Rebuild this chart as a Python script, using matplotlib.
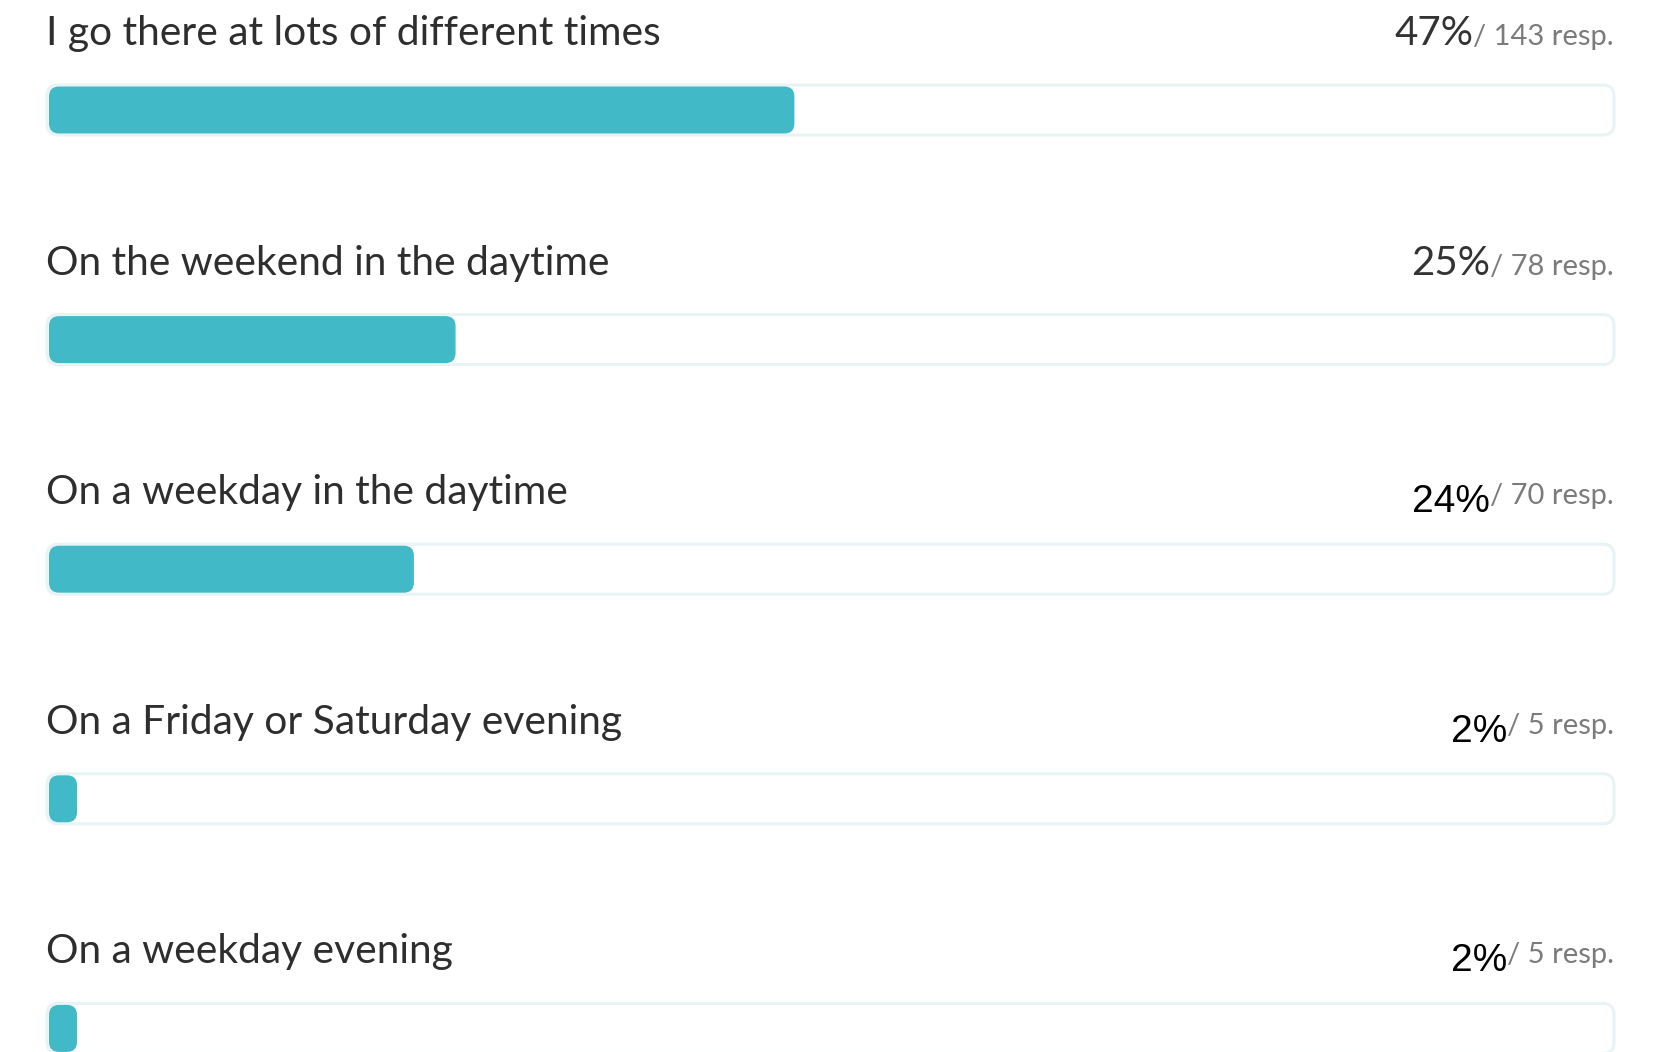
import matplotlib
matplotlib.use("Agg")
import matplotlib.pyplot as plt
from matplotlib.patches import FancyBboxPatch

labels = ["I go there at lots of different times",
          "On the weekend in the daytime",
          "On a weekday in the daytime",
          "On a Friday or Saturday evening",
          "On a weekday evening"]
pcts = [47, 25, 24, 2, 2]
resps = [143, 78, 70, 5, 5]
# the last three percentages are drawn in a different (Arial-like) font
pct_alt = [False, False, True, True, True]

W, H = 1672, 1052
fig = plt.figure(figsize=(W / 100, H / 100), dpi=100)
ax = fig.add_axes([0, 0, 1, 1])
ax.set_xlim(0, W)
ax.set_ylim(H, 0)
ax.axis("off")

teal = "#42b9c7"
dark = "#2e2e2e"
grey = "#7b7b7b"
font = "Lato"

x0, x1 = 46, 1615          # track edges
pitch = 229.6
total = sum(resps)

for i, (lab, p, r) in enumerate(zip(labels, pcts, resps)):
    base = 45 + i * pitch
    yc = 110 + i * pitch
    ax.text(x0, base, lab, fontsize=29.3, color=dark, family=font,
            ha="left", va="baseline")

    # track
    ax.add_patch(FancyBboxPatch((x0 + 1, yc - 25), x1 - x0 - 2, 50,
                                boxstyle="round,pad=0,rounding_size=11",
                                fc="white", ec="#e8f3f5", lw=2.2))
    # fill
    inner = x1 - x0
    w = max(inner * r / total, 28)
    ax.add_patch(FancyBboxPatch((x0 + 3, yc - 23.5), w, 47,
                                boxstyle="round,pad=0,rounding_size=10",
                                fc=teal, ec="none"))

    t = ax.text(x1 - 1, base, "/ %d resp." % r, fontsize=21, color=grey,
                family=font, ha="right", va="baseline")
    fig.canvas.draw()
    bb = t.get_window_extent()
    left = ax.transData.inverted().transform((bb.x0, bb.y0))[0]
    if pct_alt[i]:
        ax.text(left, base + 8, "%d%%" % p, fontsize=28, color="black",
                family="Liberation Sans", ha="right", va="baseline")
    else:
        ax.text(left, base, "%d%%" % p, fontsize=29, color="#333333",
                family=font, ha="right", va="baseline")

fig.savefig("out.png", dpi=100, facecolor="white")
